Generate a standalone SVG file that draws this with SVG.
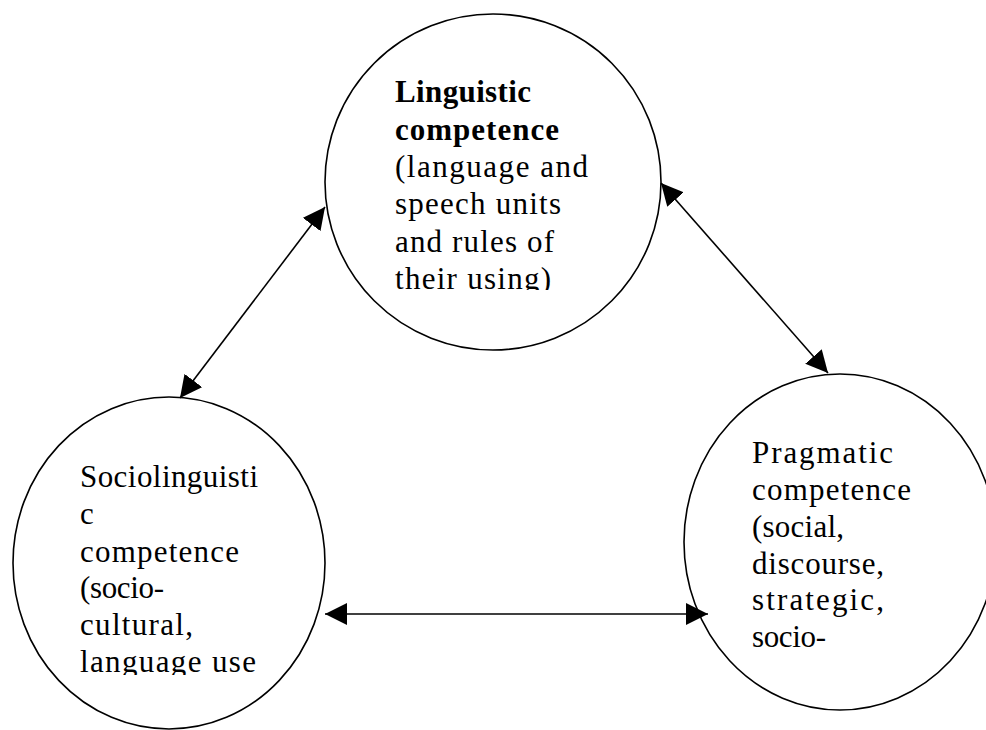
<svg xmlns="http://www.w3.org/2000/svg" width="986" height="730" viewBox="0 0 986 730">
<style>
.node{fill:#fff;stroke:#000;stroke-width:1.6}
.t{font-family:"Liberation Serif","Times New Roman",serif;font-size:31px;fill:#000}
.b{font-weight:bold}
.edge{stroke:#000;stroke-width:1.6;fill:none;marker-start:url(#ah);marker-end:url(#ah)}
</style>
<defs>
<marker id="ah" markerUnits="userSpaceOnUse" markerWidth="22" markerHeight="22" refX="22" refY="11" orient="auto-start-reverse" viewBox="0 0 22 22">
<path d="M0,0 L22,11 L0,22 z" fill="#000"/>
</marker>
<clipPath id="c1"><rect x="380" y="60" width="240" height="230"/></clipPath>
<clipPath id="c2"><rect x="70" y="450" width="220" height="225"/></clipPath>
<clipPath id="c3"><rect x="740" y="430" width="200" height="228"/></clipPath>
</defs>
<rect width="986" height="730" fill="#fff"/>
<g id="linguistic">
<circle class="node" cx="493" cy="182" r="168"/>
<g clip-path="url(#c1)">
<text class="t b" x="395" y="102" textLength="136" lengthAdjust="spacing">Linguistic</text>
<text class="t b" x="395" y="140" textLength="164" lengthAdjust="spacing">competence</text>
<text class="t" x="395" y="177" textLength="193" lengthAdjust="spacing">(language and</text>
<text class="t" x="395" y="214" textLength="166" lengthAdjust="spacing">speech units</text>
<text class="t" x="395" y="252" textLength="159" lengthAdjust="spacing">and rules of</text>
<text class="t" x="395" y="289" textLength="156" lengthAdjust="spacing">their using)</text>
</g>
</g>
<g id="sociolinguistic">
<ellipse class="node" cx="169" cy="563" rx="156" ry="166"/>
<g clip-path="url(#c2)">
<text class="t" x="80" y="487" textLength="178" lengthAdjust="spacing">Sociolinguisti</text>
<text class="t" x="80" y="524">c</text>
<text class="t" x="80" y="562" textLength="159" lengthAdjust="spacing">competence</text>
<text class="t" x="80" y="598" textLength="84" lengthAdjust="spacing">(socio-</text>
<text class="t" x="80" y="635" textLength="113" lengthAdjust="spacing">cultural,</text>
<text class="t" x="80" y="672" textLength="176" lengthAdjust="spacing">language use</text>
</g>
</g>
<g id="pragmatic">
<ellipse class="node" cx="840" cy="542" rx="156" ry="168"/>
<g clip-path="url(#c3)">
<text class="t" x="752" y="463" textLength="141" lengthAdjust="spacing">Pragmatic</text>
<text class="t" x="752" y="500" textLength="159" lengthAdjust="spacing">competence</text>
<text class="t" x="752" y="537" textLength="92" lengthAdjust="spacing">(social,</text>
<text class="t" x="752" y="574" textLength="132" lengthAdjust="spacing">discourse,</text>
<text class="t" x="752" y="610" textLength="132" lengthAdjust="spacing">strategic,</text>
<text class="t" x="752" y="647" textLength="74" lengthAdjust="spacing">socio-</text>
</g>
</g>
<g id="connectors">
<line class="edge" x1="180" y1="398" x2="325" y2="207"/>
<line class="edge" x1="661" y1="183" x2="828" y2="373"/>
<line class="edge" x1="325" y1="614" x2="708" y2="614"/>
</g>
</svg>
